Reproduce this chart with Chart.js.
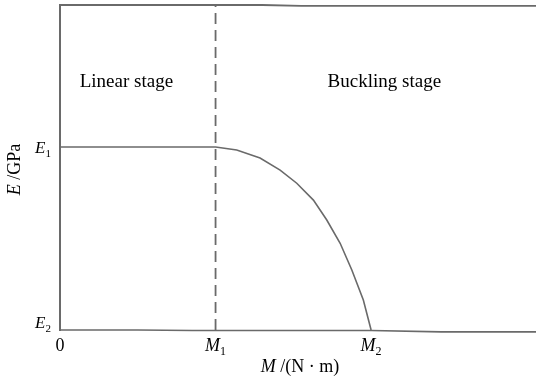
<!DOCTYPE html>
<html>
<head>
<meta charset="utf-8">
<script src="https://cdn.jsdelivr.net/npm/chart.js@4.4.1/dist/chart.umd.min.js"></script>
<style>
  html, body { margin: 0; padding: 0; background: #fff; }
  canvas { display: block; }
</style>
</head>
<body>
<canvas id="myChart" width="536" height="383"></canvas>
<script>
// tick positions / labels
const xTickValues = [0, 1, 2];
const xTickLabels = ["0", "M_1", "M_2"];
const yTickValues = [0, 1];
const yTickLabels = ["E_2", "E_1"];
const xTitle = "M /(N · m)";
const yTitle = "E /GPa";

// E-M curve (linear stage then buckling)
const curveX = [0, 1, 1.136, 1.286, 1.415, 1.522, 1.629, 1.715, 1.801, 1.876, 1.95, 2];
const curveY = [1, 1, 0.984, 0.94, 0.874, 0.802, 0.71, 0.601, 0.474, 0.328, 0.164, 0];

// bottom and top lines of the frame
const baseX = [0, 0.5, 0.85, 2, 2.45, 3.06];
const baseY = [0, 0, -0.003, -0.003, -0.01, -0.01];
const topX = [0, 1.3, 1.55, 3.06];
const topY = [1.776, 1.776, 1.771, 1.771];

// dashed divider at M1
const dividerX = [1, 1];
const dividerY = [0, 1.776];

const stageLabels = ["Linear stage", "Buckling stage"];
const stageX = [0.427, 2.085];
const stageY = [1.33, 1.33];

const FONT = '"Liberation Serif", "Times New Roman", serif';
const lineColor = "#6a6a6a";

const toPts = (xs, ys) => xs.map((v, i) => ({ x: v, y: ys[i] }));

function richParts(str, italicFirst) {
  let parts = [];
  let s = str;
  if (italicFirst && /^[A-Za-z]/.test(s)) {
    parts.push({ t: s[0], it: true });
    s = s.slice(1);
  }
  let m = s.match(/^_(\w)(.*)$/);
  if (m) {
    parts.push({ t: m[1], sub: true });
    s = m[2];
  }
  if (s.length) parts.push({ t: s });
  return parts;
}

function drawRich(ctx, str, x, y, align, size, italicFirst) {
  const parts = richParts(str, italicFirst);
  const fontOf = (p) =>
    (p.it ? "italic " : "") + (p.sub ? Math.round(size * 0.65) : size) + "px " + FONT;
  let total = 0;
  parts.forEach((p) => {
    ctx.font = fontOf(p);
    p.w = ctx.measureText(p.t).width;
    total += p.w;
  });
  let cx = x;
  if (align === "center") cx = x - total / 2;
  if (align === "right") cx = x - total;
  ctx.textAlign = "left";
  ctx.textBaseline = "alphabetic";
  parts.forEach((p) => {
    ctx.font = fontOf(p);
    ctx.fillText(p.t, cx, y + (p.sub ? size * 0.22 : 0));
    cx += p.w;
  });
}

const labelPlugin = {
  id: "labelPlugin",
  afterDraw(chart) {
    const { ctx, chartArea } = chart;
    const xs = chart.scales.x;
    const ys = chart.scales.y;
    ctx.save();
    ctx.fillStyle = "#000";
    xs.ticks.forEach((t, i) => {
      drawRich(ctx, xTickLabels[i], xs.getPixelForValue(t.value), 351, "center", 18, true);
    });
    ys.ticks.forEach((t, i) => {
      const py = ys.getPixelForValue(t.value);
      drawRich(ctx, yTickLabels[i], 51, Math.min(py + 6, chartArea.bottom - 2), "right", 17, true);
    });
    stageLabels.forEach((s, i) => {
      drawRich(ctx, s, xs.getPixelForValue(stageX[i]), ys.getPixelForValue(stageY[i]), "center", 19, false);
    });
    drawRich(ctx, xTitle, (chartArea.left + chartArea.right) / 2 + 2, 372, "center", 18, true);
    ctx.translate(20, (chartArea.top + chartArea.bottom) / 2 + 2);
    ctx.rotate(-Math.PI / 2);
    drawRich(ctx, yTitle, 0, 0, "center", 18, true);
    ctx.restore();
  },
};

const ctx = document.getElementById("myChart").getContext("2d");
const myChart = new Chart(ctx, {
  type: "scatter",
  data: {
    datasets: [
      {
        data: toPts(curveX, curveY),
        showLine: true,
        borderColor: lineColor,
        borderWidth: 1.6,
        pointRadius: 0,
        tension: 0,
        clip: false,
      },
      {
        data: toPts(baseX, baseY),
        showLine: true,
        borderColor: lineColor,
        borderWidth: 1.6,
        pointRadius: 0,
        clip: false,
      },
      {
        data: toPts(topX, topY),
        showLine: true,
        borderColor: lineColor,
        borderWidth: 1.8,
        pointRadius: 0,
        clip: false,
      },
      {
        data: toPts(dividerX, dividerY),
        showLine: true,
        borderColor: lineColor,
        borderWidth: 1.8,
        borderDash: [11, 6],
        pointRadius: 0,
        clip: false,
      },
    ],
  },
  options: {
    responsive: false,
    animation: false,
    devicePixelRatio: 1,
    layout: { padding: { top: 5, right: 0, left: 0, bottom: 0 } },
    plugins: {
      legend: { display: false },
      tooltip: { enabled: false },
      title: { display: false },
    },
    scales: {
      x: {
        type: "linear",
        min: 0,
        max: 3.06,
        grid: { display: false },
        border: { display: false },
        ticks: { display: false },
        afterBuildTicks: (s) => {
          s.ticks = xTickValues.map((v) => ({ value: v }));
        },
        afterFit: (s) => {
          s.height = 53;
        },
      },
      y: {
        type: "linear",
        min: 0,
        max: 1.776,
        grid: { display: false },
        border: { display: true, color: lineColor, width: 2 },
        ticks: { display: false },
        afterBuildTicks: (s) => {
          s.ticks = yTickValues.map((v) => ({ value: v }));
        },
        afterFit: (s) => {
          s.width = 60;
        },
      },
    },
  },
  plugins: [labelPlugin],
});
</script>
</body>
</html>
